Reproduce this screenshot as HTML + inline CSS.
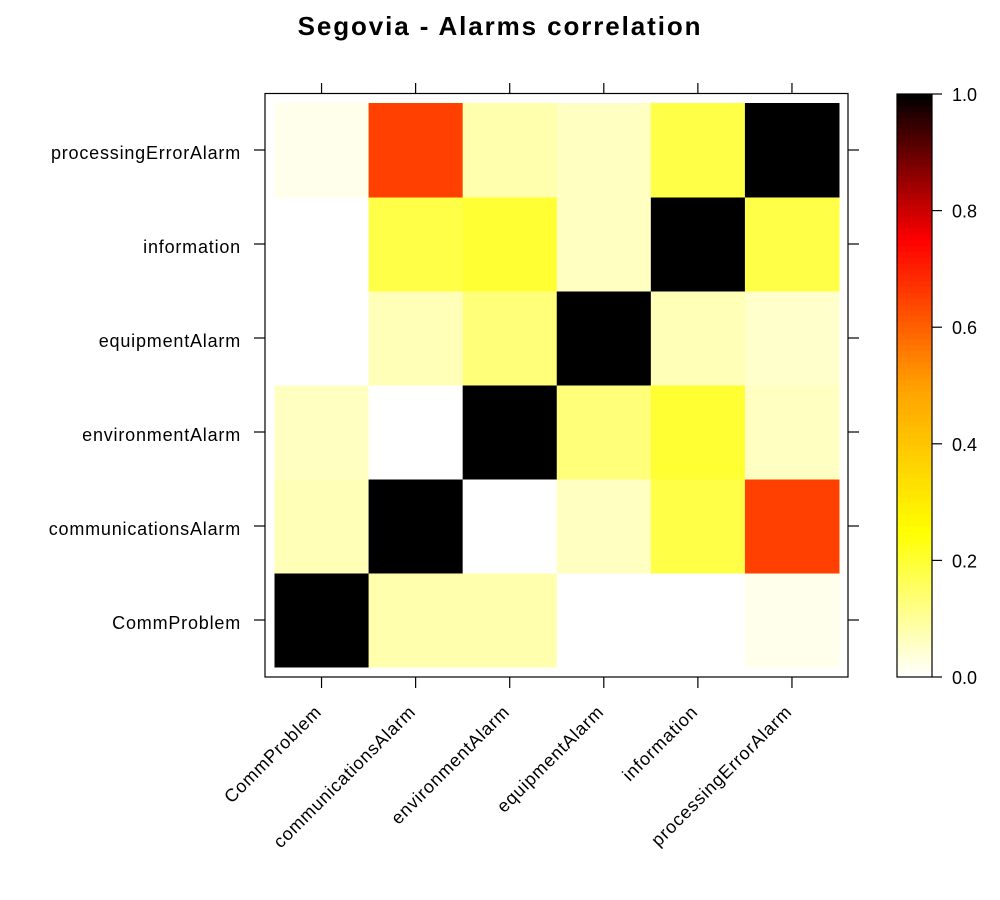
<!DOCTYPE html>
<html><head><meta charset="utf-8"><style>
body{margin:0;background:#fff;}
svg{display:block;font-family:"Liberation Sans",sans-serif;}
</style></head><body>
<svg id="c" width="1000" height="900" xmlns="http://www.w3.org/2000/svg">
<text x="500" y="35" text-anchor="middle" font-size="26" font-weight="bold" letter-spacing="1.9">Segovia - Alarms correlation</text>
<g id="cells"></g>
<rect x="265" y="93.5" width="583" height="583.5" fill="none" stroke="#000" stroke-width="1.2"/>
<g id="axes"></g>
<g id="bar"></g>
</svg>
<script>
const labels = ["CommProblem","communicationsAlarm","environmentAlarm","equipmentAlarm","information","processingErrorAlarm"];
// rows from bottom (CommProblem) to top; each row lists values by column
const rowCommProblem = [1, 0.08, 0.08, 0, 0, 0.02];
const rowComm = [0.07, 1, 0, 0.06, 0.18, 0.65];
const rowEnv = [0.06, 0, 1, 0.13, 0.2, 0.06];
const rowEquip = [0, 0.07, 0.13, 1, 0.07, 0.05];
const rowInfo = [0, 0.18, 0.2, 0.06, 1, 0.18];
const rowProc = [0.02, 0.65, 0.08, 0.06, 0.18, 1];
const colorTicks = [0, 0.2, 0.4, 0.6, 0.8, 1.0];
const rows = [rowCommProblem,rowComm,rowEnv,rowEquip,rowInfo,rowProc];
const NS="http://www.w3.org/2000/svg";
const x0=274.5,x1=839,y0=667,y1=103;
const cw=(x1-x0)/labels.length, ch=(y0-y1)/labels.length;
const xc=i=>x0+cw*(i+0.5), yc=j=>y0-ch*(j+0.5);
const stops=[[0,[255,255,255]],[0.25,[255,255,0]],[0.5,[255,160,0]],[0.75,[255,0,0]],[1,[0,0,0]]];
function col(v){v=Math.max(0,Math.min(1,v));for(let k=1;k<stops.length;k++){if(v<=stops[k][0]){const a=stops[k-1],b=stops[k],t=(v-a[0])/(b[0]-a[0]);return 'rgb('+a[1].map((c,i)=>Math.round(c+(b[1][i]-c)*t)).join(',')+')';}}return 'rgb(0,0,0)';}
function mk(t,at,p){const e=document.createElementNS(NS,t);for(const k in at)e.setAttribute(k,at[k]);p.appendChild(e);return e;}
const cells=document.getElementById('cells'),axes=document.getElementById('axes'),bar=document.getElementById('bar');
rows.forEach((r,j)=>r.forEach((v,i)=>{
  const e=mk('rect',{x:x0+cw*i,y:y0-ch*(j+1),width:cw+0.5,height:ch+0.5,fill:col(v)},cells);
  
  
}));
labels.forEach((l,i)=>{
  mk('line',{x1:xc(i),x2:xc(i),y1:83,y2:93.5,stroke:'#000','stroke-width':1.2},axes);
  mk('line',{x1:xc(i),x2:xc(i),y1:677,y2:688,stroke:'#000','stroke-width':1.2},axes);
  mk('line',{x1:254,x2:265,y1:yc(i),y2:yc(i),stroke:'#000','stroke-width':1.2},axes);
  mk('line',{x1:848,x2:859,y1:yc(i),y2:yc(i),stroke:'#000','stroke-width':1.2},axes);
  const ty=mk('text',{x:241,y:yc(i)+9,'text-anchor':'end','font-size':18,'letter-spacing':0.8},axes);ty.textContent=l;
  
  
  const ax=xc(i)+1, ay=713;
  const tx=mk('text',{x:ax,y:ay,'text-anchor':'end','font-size':18,'letter-spacing':0.8,transform:'rotate(-45 '+ax+' '+ay+')'},axes);tx.textContent=l;
  
  
});
const bx=897,bw=35,by0=677,by1=94;
const N=100;
for(let k=0;k<N;k++){const h=(by0-by1)/N;mk('rect',{x:bx,y:by0-h*(k+1),width:bw,height:h+0.6,fill:col((k+0.5)/N)},bar);}
const fr=mk('rect',{x:bx,y:by1,width:bw,height:by0-by1,fill:'none',stroke:'#000','stroke-width':1.2},bar);


colorTicks.forEach(v=>{const y=by0-(by0-by1)*v;
  mk('line',{x1:bx+bw,x2:bx+bw+10,y1:y,y2:y,stroke:'#000','stroke-width':1.2},bar);
  const t=mk('text',{x:952,y:y+7,'font-size':18},bar);t.textContent=v.toFixed(1);
  
  
});
</script>
</body></html>
